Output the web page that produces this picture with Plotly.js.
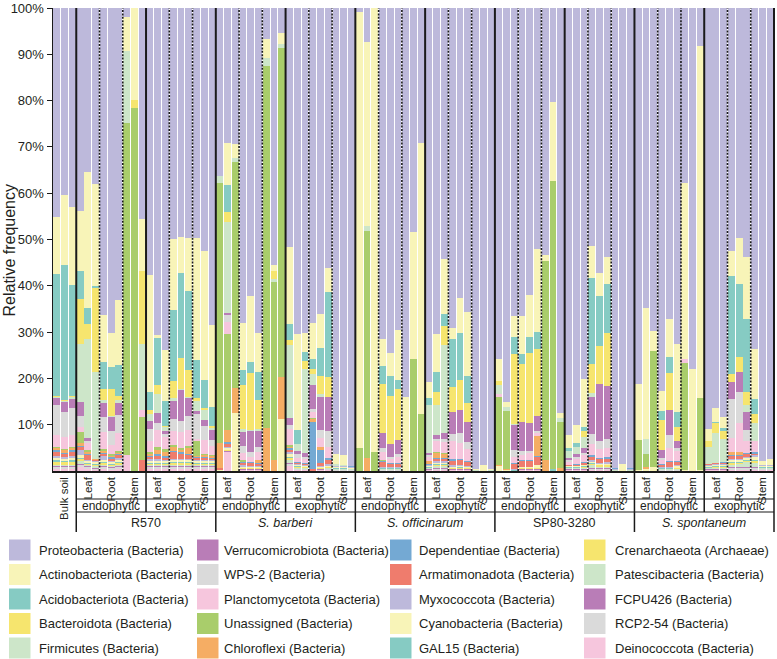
<!DOCTYPE html>
<html><head><meta charset="utf-8">
<script src="https://cdn.plot.ly/plotly-3.0.1.min.js"></script>
<style>html,body{margin:0;padding:0;background:#fff}#chart{width:777px;height:659px}</style>
</head><body><div id="chart"></div>
<script>
// ---------- categories ----------
const genotypes = ["R570", "S. barberi", "S. officinarum", "SP80-3280", "S. spontaneum"];
const genotypeItalic = [false, true, true, false, true];
const compartments = ["endophytic", "exophytic"];
const tissues = ["Leaf", "Root", "Stem"];
const bulkLabel = "Bulk soil";
const bulkReps = 3;
const repsPerTissue = 3;

const taxa = [
  "Proteobacteria (Bacteria)", "Actinobacteriota (Bacteria)", "Acidobacteriota (Bacteria)", "Bacteroidota (Bacteria)", "Firmicutes (Bacteria)",
  "Verrucomicrobiota (Bacteria)", "WPS-2 (Bacteria)", "Planctomycetota (Bacteria)", "Unassigned (Bacteria)", "Chloroflexi (Bacteria)",
  "Dependentiae (Bacteria)", "Armatimonadota (Bacteria)", "Myxococcota (Bacteria)", "Cyanobacteria (Bacteria)", "GAL15 (Bacteria)",
  "Crenarchaeota (Archaeae)", "Patescibacteria (Bacteria)", "FCPU426 (Bacteria)", "RCP2-54 (Bacteria)", "Deinococcota (Bacteria)"
];
const taxaColors = [
  "#bdb9db", "#f8f4b8", "#86cbc3", "#f6e56e", "#cde6c9",
  "#b97db7", "#dadada", "#f6c6dd", "#a9cd6b", "#f5ad64",
  "#74a9d3", "#ef7c6d", "#bdb9db", "#f8f4b8", "#86cbc3",
  "#f6e56e", "#cde6c9", "#b97db7", "#dadada", "#f6c6dd"
];

// ---------- values (relative frequency %, per sample, in bar order) ----------
const proteobacteria = [
45.4, 40.6, 43.6,
43.8, 35.3, 37.9, 66.3, 70.8, 63.3, 2.0, 0, 45.6,
57.9, 71, 74, 50, 49, 49.8, 50, 52.9, 69,
36.3, 28.6, 29.3, 68, 62.5, 70.4, 6.7, 55.4, 5.4,
51.5, 70.5, 70.5, 68, 66.5, 55.8, 96.6, 97.0, 99.3,
0.8, 7.4, 0, 72, 75, 69.9, 84.1, 48.3, 29.1,
81.5, 70.5, 54.5, 69, 62.6, 66, 99.5, 98.7, 99.5,
75.8, 85.1, 66.5, 67, 62.2, 52.2, 53.4, 20.2, 87.5,
92.8, 90.8, 80.7, 51.3, 57.6, 54.1, 99.5, 98.5, 99.6,
81.2, 64.7, 69.5, 83, 67.2, 72.3, 37.6, 78, 8.1,
91.6, 86.8, 89, 52.4, 49.4, 54, 74.2, 98.5, 98.2];
const actinobacteriota = [
12.5, 15.2, 16.9,
13.1, 29.3, 21.8, 10.2, 7.3, 14, 7.3, 19.7, 11.1,
25.4, 0.5, 11, 15.3, 7.8, 11.4, 26.5, 27.9, 17.9,
0, 9, 2.9, 10, 14.4, 8.6, 4, 1.5, 2.4,
16.7, 20.7, 4.2, 7.8, 7.2, 5.2, 2.2, 2.0, 0,
94.3, 39.4, 95.5, 6, 5, 10.9, 15.9, 27.5, 58.6,
3.3, 8.2, 12, 2.5, 7.5, 13.8, 0, 1, 0,
4.7, 1, 4.5, 8.1, 9.3, 17.9, 1.3, 17, 1,
3, 3.8, 10.6, 7, 5, 5.8, 0, 1.2, 0,
12, 28.3, 4.2, 4.3, 8.3, 14.6, 37.9, 22, 76,
2.5, 3, 2.4, 5.3, 10, 13.6, 10.9, 0.8, 1.2];
const acidobacteriota = [
26.5, 29.3, 24.3,
6, 3.5, 0.4, 5.8, 4.8, 6.7, 0, 0, 0,
4, 10.2, 5.4, 15.5, 18.1, 17.1, 8.3, 6.1, 4.3,
0, 5.7, 0, 3.4, 2.3, 6, 0, 0, 0,
3.3, 2.9, 1.8, 2.2, 6.1, 18.4, 0, 0, 0,
0, 0, 0, 3.9, 4.3, 1.8, 0, 0, 0,
1.7, 4.3, 2.5, 10.2, 10, 6, 0, 0, 0,
0, 0, 3.8, 2.2, 3.4, 3.6, 0, 0, 0,
0.5, 1, 0.8, 18.6, 10.9, 10.7, 0, 0, 0,
0, 0, 0, 2.1, 3.5, 3.2, 0, 0, 0,
0, 0.3, 0.6, 21.2, 15.7, 15.7, 3.2, 0, 0];
const bacteroidota = [
0.3, 0.3, 0.3,
9.7, 3.2, 18.2, 2.5, 5.9, 1, 0, 1.6, 15.9,
0.8, 2.1, 0.3, 3.7, 6.6, 5.8, 0.7, 0.5, 0.3,
0, 2.1, 0, 9.5, 12.4, 6.2, 0, 1.7, 0,
1.1, 0, 1.8, 1, 3.9, 4.3, 0, 0, 0,
0, 0, 0, 10.7, 10.4, 11.1, 0, 0, 0,
0, 3, 4.3, 5.4, 6.6, 4, 0, 0, 0,
1, 0, 15, 12.6, 15.2, 14.5, 0, 0, 0,
0, 0, 1.3, 6.1, 8.3, 11.4, 0, 0, 0,
0, 0, 0, 6.4, 7.9, 3, 0, 0, 0,
1.4, 2.1, 1.8, 1.6, 3.1, 2.9, 2, 0, 0];
const firmicutes = [
0.3, 0.3, 0.3,
12.5, 21.3, 18.6, 0.5, 0.3, 0.5, 15.4, 0, 14.3,
1.5, 4, 0.8, 0.5, 0.3, 0.3, 2.1, 2.2, 0.5,
1.6, 19.3, 0.8, 0.5, 0.3, 0.5, 1.8, 0.6, 0.8,
15.7, 1.5, 18.3, 2.5, 0.7, 0, 0.4, 0.3, 0,
0, 1.1, 0, 0, 0, 0, 0, 0, 0,
10.4, 6.5, 19, 0, 0, 0, 0, 0, 0,
1.8, 0.8, 0.3, 0, 0, 0, 0, 0, 0.9,
1.5, 1.5, 2.5, 1, 0, 0, 0, 0, 0,
0, 3.3, 0, 0, 0, 0, 0, 0, 0,
3.6, 6.5, 5, 0, 0, 1.5, 3.9, 0, 0];
const verrucomicrobiota = [
1.5, 2.1, 2,
3.2, 0.6, 0, 3.2, 2.9, 2.6, 0, 0, 0,
1.8, 2.1, 0.6, 4, 6.5, 3.9, 0.7, 1.4, 2.1,
0, 0.5, 0, 3.2, 4.6, 3.4, 0, 0, 0,
1.5, 0.8, 0.8, 5, 7.2, 7.1, 0, 0, 0,
0, 0, 0, 3.2, 2.8, 3.2, 0, 0, 0,
0.5, 0.7, 1.4, 4.8, 5, 4.5, 0, 0, 0,
0, 0, 5.3, 6.3, 6.1, 3.4, 0, 0, 0,
0.5, 0.6, 1, 8, 12.3, 11.5, 0, 0, 0,
0, 0, 0, 1.8, 5.4, 1.5, 0, 0, 0,
0, 0, 0, 3.7, 4.3, 3.9, 0, 0, 0];
const wps2 = [
6.5, 5.5, 6,
2.2, 0.5, 0, 3.2, 3.2, 4, 0, 0, 0,
2.5, 1.5, 0.8, 2.5, 2.4, 3, 5.4, 3, 1.3,
0, 1.5, 0, 1.5, 1, 1.2, 0, 0, 0,
1, 0.8, 0.5, 0.8, 1.8, 3.5, 0, 0, 0,
0, 0, 0, 0.8, 0.5, 0.5, 0, 0, 0,
0.3, 0.5, 0.5, 1.5, 2, 1.5, 0, 0, 0,
0, 0, 1.5, 1, 0.5, 0.3, 0, 0, 0,
0.5, 0.5, 0.5, 2, 1.8, 2, 0, 0, 0,
0, 0, 0, 0.5, 2.9, 0.5, 0, 0, 0,
0, 0, 0, 8.3, 6.6, 2.4, 0, 0, 0];
const planctomycetota = [
2.5, 2.5, 2.5,
1.1, 1.5, 0, 3.6, 2, 3.9, 0, 0, 1.4,
2.5, 3.9, 2.6, 3, 3.5, 3.5, 0.5, 3, 2,
0, 2.5, 0, 1.5, 1.2, 1.8, 0, 0, 0,
3.5, 0.8, 0.8, 1.2, 1.8, 2.5, 0, 0, 0,
0, 0, 0, 1.8, 0.8, 1.3, 0, 0, 0,
1, 2.3, 2.5, 4, 3.5, 2.5, 0, 0, 0,
0.7, 0, 1.3, 1, 1.5, 0.7, 0, 0, 0,
0.5, 1, 1.5, 2.5, 1.8, 2, 0, 0, 0,
0, 0, 0, 0.8, 2.9, 2.2, 0.7, 0, 0,
0, 0, 0, 3.1, 6.3, 2.5, 2.5, 0, 0];
const unassigned = [
0.3, 0.3, 0.3,
2.5, 0.3, 0, 0.5, 0.3, 0.3, 71.5, 77.7, 9.3,
0.5, 0.5, 0.5, 0.5, 0.3, 0.5, 3.2, 0.3, 0.3,
56, 20.5, 48.5, 0.3, 0, 0, 78.3, 38.4, 70.8,
0.3, 0, 0, 0.3, 0, 0, 0, 0, 0,
4.9, 49, 4.2, 0.3, 0, 0, 0, 24.2, 12.3,
0, 0.3, 0.3, 0, 0, 0, 0, 0, 0,
14.7, 12.5, 0, 0, 0, 0, 42.9, 62, 10,
0, 0, 0, 0, 0, 0, 0, 0, 0,
6.4, 2.8, 25, 0, 0, 0, 23.1, 0, 15.6,
0, 0, 0, 0, 0, 0, 0, 0, 0];
const chloroflexi = [
0.5, 0.5, 0.5,
0.5, 0.5, 0.3, 0.3, 0.3, 0.3, 0, 0, 0,
0.3, 1, 1, 0.8, 0.5, 1.2, 0.3, 0.3, 0.3,
5.5, 2.5, 5.4, 0, 0, 0.5, 9.2, 2.4, 8.9,
0.3, 0, 0, 0.7, 0.7, 0, 0, 0, 0,
0, 2.7, 0, 0, 0, 0, 0, 0, 0,
0.5, 1, 0.7, 0, 0, 0, 0, 0, 0,
0.3, 0.3, 0, 0, 0, 4.3, 2.4, 0, 0.6,
0, 0, 0, 0, 0, 0, 0, 0, 0,
0, 0.3, 0, 0, 0, 0, 0, 0, 0,
0, 0, 0, 0.6, 0.6, 0, 0, 0, 0];
const dependentiae = [
0.4, 0.3, 0.4,
0.3, 0.3, 0, 0.3, 0.3, 0.3, 0, 0, 0,
0.3, 0.3, 0.3, 0.3, 0.5, 0.3, 0.2, 0.2, 0.2,
0, 0.3, 0, 0.2, 0.2, 0.2, 0, 0, 0,
0.3, 0.2, 0.2, 10, 2.8, 0.3, 0.1, 0.1, 0.1,
0, 0, 0, 0.2, 0.2, 0.2, 0, 0, 0,
0.2, 0.3, 0.3, 0.3, 0.3, 0.3, 0.1, 0, 0.1,
0, 0, 0.2, 0.2, 0.2, 0.3, 0, 0, 0,
0.1, 0.2, 0.2, 0.3, 0.3, 0.3, 0.1, 0, 0.1,
0, 0, 0, 0.1, 0.2, 0.2, 0, 0, 0,
0.1, 0.1, 0.2, 0.3, 0.3, 0.3, 0.3, 0.1, 0.1];
const armatimonadota = [
0.8, 0.6, 0.8,
0.6, 1.0, 0.2, 0.5, 0.5, 0.5, 0, 0, 2.4,
0.5, 0.8, 0.5, 1.5, 1.0, 0.8, 0.3, 0.5, 0.3,
0.3, 0.8, 0, 0.6, 0.6, 0.5, 0, 0, 0,
0.5, 0.2, 0.2, 0.5, 0.7, 1.0, 0, 0, 0,
0, 0, 0, 1.0, 0.8, 0.8, 0, 0, 0,
0.2, 0.5, 0.5, 1.0, 1.0, 0.8, 0, 0, 0,
0, 0, 1.2, 1.3, 1.2, 1.6, 0, 0, 0,
0.2, 0.3, 0.3, 0.8, 0.8, 0.8, 0, 0, 0,
0, 0, 0, 0.6, 1.0, 0.8, 0, 0, 0,
0.2, 0.2, 0.2, 0.6, 0.6, 0.6, 0.3, 0, 0];
const myxococcota = [
0.5, 0.5, 0.5,
1.2, 0.3, 0.2, 0.8, 0.3, 0.5, 0, 0, 0,
0.3, 0.3, 0.3, 0.3, 0.3, 0.3, 0.3, 0.3, 0.3,
0, 0.2, 0, 0.3, 0.2, 0.2, 0, 0, 0,
0.5, 0.2, 0.2, 0, 0.2, 0.3, 0.2, 0.2, 0.3,
0, 0, 0, 0.2, 0.1, 0.1, 0, 0, 0,
0.2, 0.3, 0.3, 0.3, 0.3, 0.2, 0.2, 0.1, 0.2,
0, 0, 0.1, 0.1, 0.1, 0.2, 0, 0, 0,
0.1, 0.1, 0.2, 0.3, 0.2, 0.3, 0.2, 0, 0.2,
0, 0, 0, 0.1, 0.2, 0.2, 0, 0, 0,
0.2, 0.2, 0.2, 0.3, 0.3, 0.3, 0.5, 0.2, 0.2];
const cyanobacteria = [
0.5, 0.4, 0.5,
0.5, 0.3, 0.4, 0.5, 0.3, 0.4, 0, 0, 0,
0.4, 0.4, 0.3, 0.4, 0.4, 0.4, 0.4, 0.3, 0.3,
0.3, 0.3, 12.5, 0.2, 0.2, 0.2, 0, 0, 11.2,
0.5, 0.3, 0.2, 0, 0.2, 0.2, 0.2, 0.2, 0.1,
0, 0, 0, 0.1, 0.1, 0.1, 0, 0, 0,
0.2, 0.3, 0.3, 0.2, 0.2, 0.2, 0.1, 0.1, 0.1,
1.0, 0.2, 0.1, 0.1, 0.1, 0.5, 0, 0, 0,
0.2, 0.2, 0.2, 0.3, 0.2, 0.2, 0.1, 0.2, 0.1,
0.2, 0.5, 0.8, 0.1, 0.1, 0.3, 0.2, 0, 0.2,
0.3, 0.3, 0.3, 0.4, 0.4, 0.4, 0.5, 0.3, 0.3];
const gal15 = [
0.3, 0.3, 0.3,
0.3, 0.2, 0.2, 0.2, 0.2, 0.3, 0, 0, 0,
0.2, 0.2, 0.2, 0.2, 0.2, 0.2, 0.2, 0.2, 0.2,
0, 0.1, 0, 0.1, 0.1, 0.1, 0, 0, 0,
0.4, 0.2, 0.1, 0, 0.1, 0.1, 0.1, 0.1, 0,
0, 0, 0, 0.1, 0.1, 0.1, 0, 0, 0,
0.1, 0.2, 0.2, 0.1, 0.2, 0.1, 0, 0, 0,
0, 0, 0.1, 0.1, 0.1, 0.1, 0, 0.4, 0,
0.1, 0.1, 0.2, 0.2, 0.2, 0.2, 0, 0, 0,
0, 0, 0, 0.1, 0.1, 0.1, 0, 0, 0,
0.1, 0.1, 0.1, 0.2, 0.2, 0.2, 0.3, 0.1, 0.1];
const crenarchaeota = [
0.6, 0.5, 0.6,
0.5, 0.3, 0.3, 0.4, 0.3, 0.4, 0, 0, 0,
0.3, 0.3, 0.3, 0.4, 0.4, 0.4, 0.3, 0.3, 0.3,
0, 0.1, 0, 0.1, 0.1, 0.1, 0, 0, 0,
0.4, 0.2, 0.1, 0, 0.1, 0.2, 0.1, 0.1, 0.1,
0, 0, 0, 0.1, 0.1, 0.1, 0, 0, 0,
0.1, 0.3, 0.3, 0.1, 0.1, 0.1, 0.1, 0, 0.1,
0, 0, 0, 0.1, 0.1, 0.1, 0, 0, 0,
0.1, 0.1, 0.2, 0.3, 0.3, 0.3, 0, 0, 0,
0, 0, 0, 0.1, 0.1, 0.2, 0, 0, 0,
0.1, 0.2, 0.2, 0.3, 0.3, 0.3, 0.5, 0.1, 0.1];
const patescibacteria = [
0.3, 0.3, 0.3,
0.5, 0.3, 0.3, 0.3, 0.3, 0.3, 0, 0, 0,
0.3, 0.3, 0.3, 0.3, 0.3, 0.3, 0.3, 0.3, 0.3,
0, 0.1, 0, 0.1, 0.1, 0.1, 0, 0, 0,
0.5, 0.2, 0.2, 0, 0.1, 0.1, 0.1, 0.1, 0.1,
0, 0, 0, 0.1, 0.1, 0.1, 0, 0, 0,
0.2, 0.3, 0.3, 0.1, 0.1, 0.1, 0.1, 0, 0.1,
0, 0, 0.1, 0.1, 0.1, 0.1, 0, 0, 0,
0.2, 0.2, 0.2, 0.5, 0.2, 0.2, 0.1, 0, 0.1,
0.1, 0, 0.1, 0.1, 0.1, 0.1, 0, 0, 0,
0.2, 0.3, 0.3, 0.5, 0.5, 1.0, 0.8, 0.1, 0.1];
const fcpu426 = [
0.3, 0.3, 0.3,
0.3, 0.2, 0.2, 0.2, 0.2, 0.2, 0, 0, 0,
0.2, 0.2, 0.2, 0.2, 0.2, 0.2, 0.2, 0.2, 0.2,
0, 0.1, 0, 0.1, 0.1, 0.1, 0, 0, 0,
0.3, 0.1, 0.1, 0, 0.1, 0.1, 0.1, 0.1, 0.1,
0, 0, 0, 0.1, 0.1, 0.1, 0, 0, 0,
0.1, 0.2, 0.2, 0.1, 0.1, 0.1, 0, 0, 0,
0, 0, 0, 0.1, 0.1, 0.1, 0, 0, 0,
0.1, 0.1, 0.1, 0.2, 0.2, 0.2, 0, 0, 0,
0, 0, 0, 0.1, 0.1, 0.1, 0, 0, 0,
0.1, 0.1, 0.1, 0.3, 0.3, 0.3, 0.3, 0.1, 0.1];
const rcp254 = [
0.3, 0.3, 0.3,
0.5, 0.3, 0.2, 0.3, 0.3, 0.3, 0, 0, 0,
0.3, 0.3, 0.3, 0.3, 0.3, 0.3, 0.3, 0.3, 0.3,
0, 0.1, 0, 0.1, 0.1, 0.1, 0, 0, 0,
0.5, 0.1, 0.1, 0, 0.1, 0.1, 0.1, 0.1, 0.1,
0, 0, 0, 0.1, 0.1, 0.1, 0, 0, 0,
0.1, 0.2, 0.2, 0.1, 0.1, 0.1, 0, 0, 0,
0, 0, 0, 0.1, 0.1, 0.1, 0, 0, 0,
0.1, 0.1, 0.1, 0.2, 0.2, 0.2, 0, 0, 0,
0, 0, 0, 0.1, 0.1, 0.1, 0, 0, 0,
0.1, 0.1, 0.1, 0.3, 0.3, 0.3, 0.3, 0.1, 0.1];
const deinococcota = [
0.5, 0.5, 0.5,
0.8, 0.5, 0.3, 0.5, 0.3, 0.5, 3.5, 0, 0,
0.5, 0.5, 0.5, 0.5, 0.5, 0.5, 0.5, 0.5, 0.5,
0, 4, 0, 0.2, 0.2, 0.2, 0, 0, 0,
1, 0.3, 0.3, 0, 0.2, 0.3, 0.1, 0.1, 0.1,
0, 0, 0, 0.1, 0.1, 0.1, 0, 0, 0,
0.2, 0.3, 0.3, 0.2, 0.2, 0.2, 0.1, 0.1, 0.1,
0, 0, 0, 0.2, 0.2, 0.2, 0, 0, 0,
0.2, 0.2, 0.2, 0.3, 0.3, 0.3, 0.1, 0.1, 0.1,
0, 0, 0, 0.1, 0.1, 0.1, 0, 0, 0,
0.2, 0.2, 0.2, 0.3, 0.3, 0.3, 0.3, 0.3, 0.3];

const series = [proteobacteria, actinobacteriota, acidobacteriota, bacteroidota, firmicutes,
  verrucomicrobiota, wps2, planctomycetota, unassigned, chloroflexi,
  dependentiae, armatimonadota, myxococcota, cyanobacteria, gal15,
  crenarchaeota, patescibacteria, fcpu426, rcp254, deinococcota];

const yTickVals = [10, 20, 30, 40, 50, 60, 70, 80, 90, 100];
const yTickText = ["10%", "20%", "30%", "40%", "50%", "60%", "70%", "80%", "90%", "100%"];

// ---------- build ----------
const nBars = proteobacteria.length;
const xIdx = proteobacteria.map((_, i) => i);
const FONT = "Liberation Sans, Arial, Helvetica, sans-serif";
const INK = "#231f20";

// plot-area pixel geometry (for decorations)
const L = 53, T = 8, W = 721, H = 463;
const PX = p => (p - L) / W;
const PY = p => (T + H - p) / H;

const traces = [];
for (let k = series.length - 1; k >= 0; k--) {
  traces.push({
    type: "bar", x: xIdx, y: series[k], name: taxa[k], showlegend: false,
    marker: {color: taxaColors[k], line: {width: 0}},
    hovertemplate: taxa[k] + ": %{y:.1f}%<extra></extra>"
  });
}

// ticks
const tickVals = [], tickText = [];
tickVals.push((bulkReps - 1) / 2); tickText.push(bulkLabel);
const groupSize = repsPerTissue * tissues.length;
const genoSize = groupSize * compartments.length;
genotypes.forEach((g, gi) => {
  compartments.forEach((c, ci) => {
    tissues.forEach((t, ti) => {
      const start = bulkReps + gi * genoSize + ci * groupSize + ti * repsPerTissue;
      tickVals.push(start + (repsPerTissue - 1) / 2); tickText.push(t);
    });
  });
});

const shapes = [], annotations = [];
const xb = i => i / nBars; // boundary before bar i, paper coords
// separators inside plot
for (let b = bulkReps; b <= nBars; b += repsPerTissue) {
  const solid = ((b - bulkReps) % groupSize) === 0;
  shapes.push({type: "line", xref: "paper", yref: "paper", x0: xb(b), x1: xb(b), y0: 0, y1: 1,
    line: solid ? {color: "#1a1a1a", width: 2} : {color: "#1a1a1a", width: 1.6, dash: "2px,1.4px"}});
}
// table below axis
const yRow1 = PY(499), yRow2 = PY(512), yBottom = PY(532);
shapes.push({type: "line", xref: "paper", yref: "paper", x0: xb(bulkReps), x1: 1, y0: yRow1, y1: yRow1, line: {color: "#1a1a1a", width: 1.2}});
shapes.push({type: "line", xref: "paper", yref: "paper", x0: xb(bulkReps), x1: 1, y0: yRow2, y1: yRow2, line: {color: "#1a1a1a", width: 1.2}});
for (let gi = 0; gi <= genotypes.length; gi++) {
  const b = bulkReps + gi * genoSize;
  shapes.push({type: "line", xref: "paper", yref: "paper", x0: xb(b), x1: xb(b), y0: 0, y1: yBottom, line: {color: "#1a1a1a", width: 1.5}});
}
genotypes.forEach((g, gi) => {
  const b = bulkReps + gi * genoSize + groupSize;
  shapes.push({type: "line", xref: "paper", yref: "paper", x0: xb(b), x1: xb(b), y0: 0, y1: yRow2, line: {color: "#1a1a1a", width: 1.5}});
  compartments.forEach((c, ci) => {
    const s = bulkReps + gi * genoSize + ci * groupSize;
    annotations.push({xref: "paper", yref: "paper", x: xb(s + groupSize / 2), y: PY(505.5), text: c, showarrow: false,
      xanchor: "center", yanchor: "middle", font: {family: FONT, size: 12, color: INK}});
  });
  const s0 = bulkReps + gi * genoSize;
  annotations.push({xref: "paper", yref: "paper", x: xb(s0 + genoSize / 2), y: PY(522.5),
    text: genotypeItalic[gi] ? "<i>" + g + "</i>" : g, showarrow: false,
    xanchor: "center", yanchor: "middle", font: {family: FONT, size: 12.5, color: INK}});
});

// y title
annotations.push({xref: "paper", yref: "paper", x: PX(9.5), y: PY(250), text: "Relative frequency", textangle: -90,
  showarrow: false, xanchor: "center", yanchor: "middle", font: {family: FONT, size: 16, color: INK}});

// legend (4 columns x 5 rows)
const legSquareLeft = [9, 197, 390, 584];
const legTextLeft = [37, 222, 417, 613];
const legRowY = [550, 574.5, 599, 623.5, 648];
taxa.forEach((name, i) => {
  const col = Math.floor(i / 5), row = i % 5;
  const cy = legRowY[row], sx = legSquareLeft[col];
  shapes.push({type: "rect", xref: "paper", yref: "paper", x0: PX(sx), x1: PX(sx + 21.5), y0: PY(cy + 10.5), y1: PY(cy - 10.5),
    fillcolor: taxaColors[i], line: {width: 0}});
  annotations.push({xref: "paper", yref: "paper", x: PX(legTextLeft[col]), y: PY(cy), text: name, showarrow: false,
    xanchor: "left", yanchor: "middle", font: {family: FONT, size: 13, color: INK}});
});

const layout = {
  width: 777, height: 659,
  margin: {l: L, r: 777 - L - W, t: T, b: 659 - T - H},
  paper_bgcolor: "#fff", plot_bgcolor: "#fff",
  barmode: "stack", barnorm: "percent", bargap: 0.12,
  showlegend: false,
  font: {family: FONT, color: INK},
  xaxis: {range: [-0.5, nBars - 0.5], tickmode: "array", tickvals: tickVals, ticktext: tickText, tickangle: -90,
    ticks: "", showgrid: false, zeroline: false, showline: true, linecolor: "#1a1a1a", linewidth: 1.5,
    tickfont: {family: FONT, size: 11.5, color: INK}, fixedrange: true},
  yaxis: {range: [0, 100], tickmode: "array", tickvals: yTickVals, ticktext: yTickText,
    ticks: "outside", ticklen: 5, tickwidth: 1, tickcolor: "#1a1a1a", showgrid: false, zeroline: false,
    ticklabeloverflow: "allow",
    showline: true, linecolor: "#1a1a1a", linewidth: 1.5, tickfont: {family: FONT, size: 13, color: INK}, fixedrange: true},
  shapes: shapes, annotations: annotations
};

Plotly.newPlot("chart", traces, layout, {displayModeBar: false, staticPlot: true});
</script>
</body></html>
